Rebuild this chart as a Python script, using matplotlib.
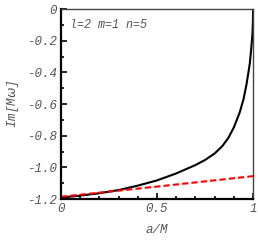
import numpy as np
from matplotlib import pyplot as plt

# black curve: Im[M omega] vs a/M (l=2 m=1 n=5)
spin = [0.0, 0.1, 0.2, 0.3, 0.4, 0.5, 0.6, 0.7, 0.75, 0.8, 0.84, 0.87, 0.9, 0.93,
        0.95, 0.965, 0.975, 0.983, 0.991, 0.997, 0.999, 1.0]
im_omega = [-1.19, -1.178, -1.163, -1.143, -1.115, -1.082, -1.038, -0.985, -0.953,
            -0.912, -0.865, -0.816, -0.747, -0.654, -0.57, -0.48, -0.405, -0.343,
            -0.24, -0.15, -0.08, 0.0]

# red dashed line
spin_fit = [0.0, 0.5, 1.0]
im_fit = [-1.185, -1.121, -1.055]

xticks = [0, 0.5, 1]
xticklabels = ['0', '0.5', '1']
yticks = [0, -0.2, -0.4, -0.6, -0.8, -1.0, -1.2]
yticklabels = ['0', '-0.2', '-0.4', '-0.6', '-0.8', '-1.0', '-1.2']

font = dict(family='Liberation Mono', style='italic', color='#555555')

fig = plt.figure(figsize=(2.58, 2.44), dpi=100)
ax = fig.add_axes([0.236, 0.184, 0.745, 0.779])

ax.plot(spin, im_omega, color='black', lw=1.5)
ax.plot(spin_fit, im_fit, color='red', lw=1.5, ls=(0, (3, 1.5)))

ax.set_xlim(0, 1)
ax.set_ylim(-1.2, 0)
ax.set_xticks(xticks)
ax.set_xticklabels(xticklabels, fontsize=9, **font)
ax.set_yticks(yticks)
ax.set_yticklabels(yticklabels, fontsize=9, **font)
ax.set_xticks(np.arange(0.1, 1.0, 0.1), minor=True)
ax.set_yticks(np.arange(-1.1, 0, 0.2), minor=True)
ax.tick_params(which='both', direction='in', top=False, right=False, width=1.2)
ax.tick_params(which='major', length=4, pad=3)
ax.tick_params(which='minor', length=2)

for s in ['left', 'bottom']:
    ax.spines[s].set_linewidth(1.6)
for s in ['top', 'right']:
    ax.spines[s].set_linewidth(1.0)
    ax.spines[s].set_color('#444444')

ax.set_xlabel('a/M', fontsize=9, labelpad=6, **font)
ax.set_ylabel(r'Im[M$\omega$]', fontsize=9, labelpad=4, **font)
ax.text(0.05, -0.1, 'l=2 m=1 n=5', fontsize=8.5, va='center', **font)

fig.savefig('out.png', dpi=100)
